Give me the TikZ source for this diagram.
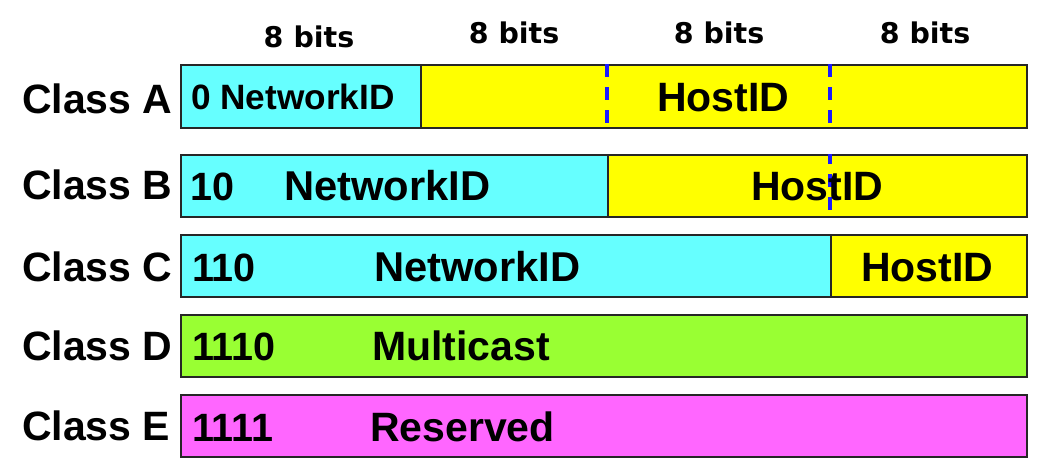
\documentclass[tikz,border=0pt]{standalone}
\usepackage{fontspec}
\setmainfont{Liberation Sans}
\newfontfamily\bitsfont{DejaVu Sans}
\definecolor{netcyan}{HTML}{66FFFF}
\definecolor{hostyellow}{HTML}{FFFF00}
\definecolor{mcgreen}{HTML}{99FF33}
\definecolor{resmag}{HTML}{FF66FF}
\definecolor{dashblue}{HTML}{1A1AFF}
\begin{document}
\begin{tikzpicture}[x=1pt,y=-1pt,
  field/.style={draw=black!85,line width=1.6pt,rectangle,inner sep=0pt,anchor=north west},
  lbl/.style={anchor=base west,inner sep=0pt,font=\fontsize{41}{41}\selectfont\bfseries},
  txt/.style={anchor=base west,inner sep=0pt,font=\fontsize{39.5}{40}\selectfont\bfseries},
  big/.style={anchor=base west,inner sep=0pt,font=\fontsize{41}{41}\selectfont\bfseries},
  netw/.style={anchor=base west,inner sep=0pt,font=\fontsize{41.7}{42}\selectfont\bfseries},
  small/.style={anchor=base west,inner sep=0pt,font=\fontsize{35.2}{35}\selectfont\bfseries},
  bits/.style={anchor=base,inner sep=0pt,font=\bitsfont\fontsize{28.5}{29}\selectfont\bfseries},
  dashln/.style={draw=dashblue,line width=3.2pt,dash pattern=on 13pt off 10pt}]
\useasboundingbox (0,0) rectangle (1052,464);
% header
\node[bits] (b1) at (309,47) {8 bits};
\node[bits] (b2) at (514,43) {8 bits};
\node[bits] (b3) at (719,43) {8 bits};
\node[bits] (b4) at (925,43) {8 bits};
% class labels
\node[lbl] (la) at (22,113) {Class A};
\node[lbl] (lb) at (22,199.5) {Class B};
\node[lbl] (lc) at (22,281) {Class C};
\node[lbl] (ld) at (22,360) {Class D};
\node[lbl] (le) at (22,440) {Class E};
% Class A
\node[field,fill=netcyan,minimum width=240pt,minimum height=63pt] (netA) at (180,64) {};
\node[field,fill=hostyellow,minimum width=606pt,minimum height=63pt] (hostA) at (420,64) {};
\coordinate (a1t) at (607,64); \coordinate (a1b) at (607,127);
\coordinate (a2t) at (830,64); \coordinate (a2b) at (830,127);
\draw[dashln] (a1t) -- (a1b);
\draw[dashln] (a2t) -- (a2b);
\node[small] (tA1) at (191,109.5) {0 NetworkID};
\node[big] (tA2) at (657,111.5) {HostID};
% Class B
\node[field,fill=netcyan,minimum width=427pt,minimum height=62pt] (netB) at (180,154) {};
\node[field,fill=hostyellow,minimum width=419pt,minimum height=62pt] (hostB) at (607,154) {};
\coordinate (b1t) at (830,154); \coordinate (b1b) at (830,216);
\draw[dashln,dash phase=3pt] (b1t) -- (b1b);
\node[txt] (tB0) at (190,200.5) {10};
\node[netw] (tB1) at (284,200.5) {NetworkID};
\node[big] (tB2) at (751,200.5) {HostID};
% Class C
\node[field,fill=netcyan,minimum width=650pt,minimum height=62pt] (netC) at (180,234) {};
\node[field,fill=hostyellow,minimum width=196pt,minimum height=62pt] (hostC) at (830,234) {};
\node[txt] (tC0) at (192,281.5) {110};
\node[netw] (tC1) at (374,281.5) {NetworkID};
\node[big] (tC2) at (861,281.5) {HostID};
% Class D
\node[field,fill=mcgreen,minimum width=846pt,minimum height=62pt] (fD) at (180,314) {};
\node[txt] (tD0) at (192,360.5) {1110};
\node[big] (tD1) at (372,360.5) {Multicast};
% Class E
\node[field,fill=resmag,minimum width=846pt,minimum height=62pt] (fE) at (180,394) {};
\node[txt] (tE0) at (192,441) {1111};
\node[big] (tE1) at (370,441) {Reserved};
\end{tikzpicture}
\end{document}
